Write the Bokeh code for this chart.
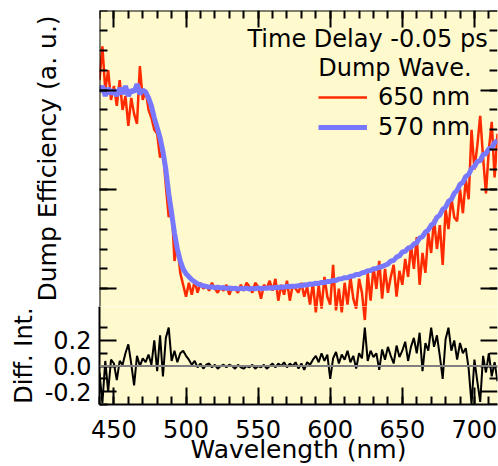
from bokeh.plotting import figure
from bokeh.models import (Range1d, LinearAxis, FixedTicker, Span, Label, Legend,
                          LegendItem, NumeralTickFormatter)
from bokeh.layouts import column
from bokeh.embed import file_html
from bokeh.resources import INLINE

# ---------------- data ----------------
wavelength = list(range(440, 717, 2))  # nm

dump_650 = [
    1.05, 1.22, 1.00, 1.10, 0.95, 1.02, 0.92, 1.05, 0.90, 0.97,
    0.82, 0.96, 0.88, 0.83, 1.12, 0.95, 1.00, 0.90, 0.86, 0.80,
    0.78, 0.66, 0.70, 0.52, 0.36, 0.42, 0.14, 0.22, 0.08, 0.02,
    -0.04, 0.03, -0.03, 0.04, -0.02, 0.03, 0.0, 0.02, -0.01, 0.03,
    0.00, -0.02, 0.01, -0.01, 0.02, -0.03, 0.01, 0.0, -0.02, 0.02,
    -0.01, 0.03, 0.01, -0.02, 0.03, 0.01, -0.05, 0.02, 0.0, 0.04,
    -0.01, 0.05, -0.06, 0.02, -0.03, 0.04, -0.06, 0.02, 0.0, -0.02,
    0.03, -0.04, 0.01, -0.08, 0.03, -0.12, 0.02, -0.10, 0.06, -0.04,
    -0.08, 0.12, -0.11, 0.0, -0.12, 0.03, -0.08, 0.06, -0.05, -0.10,
    0.05, -0.02, -0.16, 0.08, -0.06, 0.11, 0.0, 0.14, -0.05, 0.10,
    -0.02, 0.06, 0.12, -0.04, 0.09, 0.02, 0.15, 0.06, 0.22, 0.10,
    0.26, 0.02, 0.18, 0.08, 0.28, 0.18, 0.35, 0.20, 0.32, 0.12,
    0.40, 0.30, 0.46, 0.36, 0.34, 0.50, 0.38, 0.55, 0.45, 0.80,
    0.60, 0.72, 0.87, 0.66, 0.48, 0.70, 0.84, 0.56, 0.78,
]

dump_570 = [
    0.99, 1.02, 0.97, 1.01, 0.98, 1.00, 0.97, 1.01, 0.98, 1.02,
    0.97, 1.00, 0.99, 1.03, 0.98, 1.00, 0.99, 0.96, 0.92, 0.86,
    0.81, 0.76, 0.69, 0.60, 0.48, 0.38, 0.28, 0.20, 0.14, 0.10,
    0.075, 0.06, 0.045, 0.035, 0.025, 0.02, 0.015, 0.012, 0.008, 0.01,
    0.005, 0.008, 0.004, 0.006, 0.002, 0.004, 0.0, 0.003, -0.002, 0.002,
    0.0, 0.003, -0.002, 0.002, 0.0, 0.004, 0.0, 0.003, 0.002, 0.005,
    0.004, 0.007, 0.006, 0.009, 0.008, 0.012, 0.011, 0.013, 0.012, 0.016,
    0.015, 0.02, 0.019, 0.024, 0.023, 0.028, 0.027, 0.032, 0.031, 0.037,
    0.036, 0.043, 0.042, 0.049, 0.05, 0.056, 0.055, 0.063, 0.064, 0.072,
    0.072, 0.08, 0.083, 0.09, 0.092, 0.10, 0.102, 0.108, 0.112, 0.118,
    0.125, 0.14, 0.142, 0.16, 0.165, 0.185, 0.188, 0.205, 0.208, 0.225,
    0.232, 0.255, 0.262, 0.285, 0.295, 0.32, 0.33, 0.36, 0.37, 0.40,
    0.41, 0.44, 0.45, 0.48, 0.495, 0.525, 0.535, 0.565, 0.575, 0.605,
    0.615, 0.64, 0.645, 0.675, 0.68, 0.705, 0.71, 0.735, 0.745,
]

diff_int = [
    -0.05, -0.29, 0.04, -0.20, 0.05, 0.02, -0.11, 0.04, 0.01, 0.10,
    0.17, 0.02, -0.15, 0.08, 0.00, 0.06, 0.03, 0.09, 0.01, 0.20,
    -0.04, 0.24, -0.08, 0.22, 0.30, 0.04, 0.12, 0.03, 0.10, 0.12,
    0.08, 0.05, 0.01, 0.04, -0.01, 0.02, -0.02, 0.01, 0.02, -0.01,
    0.01, -0.02, 0.00, 0.01, -0.01, 0.01, 0.0, -0.02, 0.01, -0.01,
    -0.02, 0.0, -0.01, 0.01, -0.02, 0.0, -0.01, 0.01, -0.02, 0.0,
    0.02, -0.01, 0.02, 0.0, 0.03, -0.01, 0.02, 0.0, 0.03, -0.02,
    0.02, -0.03, 0.03, 0.01, 0.05, 0.08, 0.03, 0.10, 0.04, 0.09,
    -0.10, 0.06, 0.11, 0.02, 0.09, 0.05, 0.12, 0.03, 0.08, -0.02,
    0.10, 0.06, 0.30, 0.04, 0.12, 0.07, 0.10, -0.03, 0.13, 0.05,
    0.15, 0.08, 0.02, 0.16, 0.07, 0.12, 0.19, 0.04, 0.15, 0.22,
    0.10, 0.26, -0.04, 0.18, 0.12, 0.30, 0.15, 0.24, 0.08, -0.10,
    0.21, 0.30, 0.12, 0.20, 0.05, 0.18, 0.10, 0.14, -0.02, -0.30,
    0.05, -0.12, -0.28, 0.08, -0.05, 0.10, -0.08, 0.03, -0.12,
]

x_major = [450, 500, 550, 600, 650, 700]
x_minor = list(range(440, 717, 10))
main_major = [0.0, 0.5, 1.0]
main_minor = [-0.2, -0.1, 0.0, 0.1, 0.2, 0.3, 0.4, 0.5, 0.6, 0.7, 0.8, 0.9,
              1.0, 1.1, 1.2, 1.3, 1.4]
diff_major = [-0.2, 0.0, 0.2]
diff_minor = [-0.3, -0.1, 0.1, 0.3]

# ---------------- layout / style ----------------
FONT = "DejaVu Sans"
YELLOW = "#FFFACD"
RED = "#FF2A00"
BLUE = "#7878FF"

X_LO, X_HI = 440, 716
MAIN_LO, MAIN_HI = -0.2, 1.4      # span of the upper panel
DIFF_LO, DIFF_HI = -0.3, 0.3      # span of the lower panel
MAIN_PX, DIFF_PX = 318, 80        # pixel heights of the two panels
STRIP = 22                        # lower canvas starts this far above the panel seam

main_unit = (MAIN_HI - MAIN_LO) / MAIN_PX
diff_unit = (DIFF_HI - DIFF_LO) / DIFF_PX
x_range = Range1d(X_LO, X_HI)
TOP_H = 10 + MAIN_PX - STRIP


def style_axis(ax, show_labels=True, size="24px", line=True):
    ax.major_tick_in = 17
    ax.major_tick_out = 0
    ax.minor_tick_in = 8
    ax.minor_tick_out = 0
    ax.axis_line_width = 2
    ax.major_tick_line_width = 2
    ax.minor_tick_line_width = 2
    ax.axis_line_color = "black" if line else None
    ax.major_tick_line_color = "black"
    ax.minor_tick_line_color = "black"
    ax.major_label_text_font = FONT
    ax.major_label_text_font_size = size
    ax.major_label_text_color = "black" if show_labels else None
    ax.axis_label_text_font = FONT
    ax.axis_label_text_font_size = "25px"
    ax.axis_label_text_font_style = "normal"
    ax.axis_label_text_color = "black"


# ================= upper panel =================
p1 = figure(width=498, height=TOP_H, x_range=x_range,
            y_range=Range1d(MAIN_LO + STRIP * main_unit, MAIN_HI),
            output_backend="svg", toolbar_location=None,
            x_axis_location=None, y_axis_location=None,
            min_border_left=99, min_border_right=1, min_border_top=10, min_border_bottom=0)
p1.grid.visible = False
p1.outline_line_color = None
p1.background_fill_color = YELLOW
p1.border_fill_color = "white"

r_red = p1.line(wavelength, dump_650, line_color=RED, line_width=2.5)
r_blue = p1.line(wavelength, dump_570, line_color=BLUE, line_width=5)

# title-only left axis
title_ax = LinearAxis(ticker=FixedTicker(ticks=[]), axis_label="Dump Efficiency (a. u.)")
style_axis(title_ax, show_labels=False, line=False)
title_ax.major_label_standoff = 0
title_ax.axis_label_standoff = 38
p1.add_layout(title_ax, "left")

# ticks: left, top, right
left1 = LinearAxis(fixed_location=X_LO,
                   ticker=FixedTicker(ticks=main_major, minor_ticks=main_minor))
style_axis(left1, show_labels=False)
p1.add_layout(left1, "left")
top1 = LinearAxis(fixed_location=MAIN_HI,
                  ticker=FixedTicker(ticks=x_major, minor_ticks=x_minor))
style_axis(top1, show_labels=False)
p1.add_layout(top1, "above")
right1 = LinearAxis(fixed_location=X_HI,
                    ticker=FixedTicker(ticks=main_major, minor_ticks=main_minor))
style_axis(right1, show_labels=False, line=False)
p1.add_layout(right1, "right")

legend = Legend(items=[LegendItem(label="650 nm", renderers=[r_red]),
                       LegendItem(label="570 nm", renderers=[r_blue])],
                location=(219, TOP_H - 141))
legend.background_fill_alpha = 0
legend.border_line_color = None
legend.label_text_font = FONT
legend.label_text_font_size = "24px"
legend.label_text_color = "black"
legend.glyph_width = 49
legend.glyph_height = 24
legend.label_height = 24
legend.label_standoff = 11
legend.spacing = 2
legend.padding = 0
legend.margin = 0
p1.add_layout(legend)

p1.add_layout(Label(x=709.2, y=1.259, text="Time Delay -0.05 ps",
                    text_align="right", text_baseline="middle", text_font=FONT,
                    text_font_size="24px", text_color="black"))
p1.add_layout(Label(x=698.1, y=1.113, text="Dump Wave.",
                    text_align="right", text_baseline="middle", text_font=FONT,
                    text_font_size="24px", text_color="black"))

# ================= lower (difference) panel =================
p2 = figure(width=498, height=466 - TOP_H, x_range=x_range,
            y_range=Range1d(DIFF_LO, DIFF_HI + STRIP * diff_unit),
            output_backend="svg", toolbar_location=None,
            min_border_left=99, min_border_right=1, min_border_top=0, min_border_bottom=58)
p2.extra_y_ranges = {"main": Range1d(MAIN_LO - DIFF_PX * main_unit,
                                     MAIN_LO + STRIP * main_unit)}
p2.grid.visible = False
p2.outline_line_color = None
p2.background_fill_color = YELLOW
p2.border_fill_color = "white"

# continuation of the upper curves into the seam strip
p2.line(wavelength, dump_650, line_color=RED, line_width=2.5, y_range_name="main")
p2.line(wavelength, dump_570, line_color=BLUE, line_width=5, y_range_name="main")
p2.line(wavelength, diff_int, line_color="black", line_width=2)
p2.add_layout(Span(location=0, dimension="width", line_color="#808080", line_width=2))

p2.xaxis.ticker = FixedTicker(ticks=x_major, minor_ticks=x_minor)
style_axis(p2.xaxis[0])
p2.xaxis.axis_label = "Wavelength (nm)"
p2.xaxis.major_label_standoff = 15
p2.xaxis.axis_label_standoff = -6

p2.yaxis.ticker = FixedTicker(ticks=diff_major, minor_ticks=diff_minor)
p2.yaxis.formatter = NumeralTickFormatter(format="0.0")
style_axis(p2.yaxis[0])
p2.yaxis.axis_label = "Diff. Int."
p2.yaxis.axis_label_text_font_size = "24px"
p2.yaxis.major_label_standoff = 8
p2.yaxis.axis_label_standoff = 4

right2 = LinearAxis(fixed_location=X_HI,
                    ticker=FixedTicker(ticks=diff_major, minor_ticks=diff_minor))
style_axis(right2, show_labels=False, line=False)
p2.add_layout(right2, "right")

layout = column(p1, p2, spacing=0)
open("out.html", "w").write(file_html(layout, INLINE))
